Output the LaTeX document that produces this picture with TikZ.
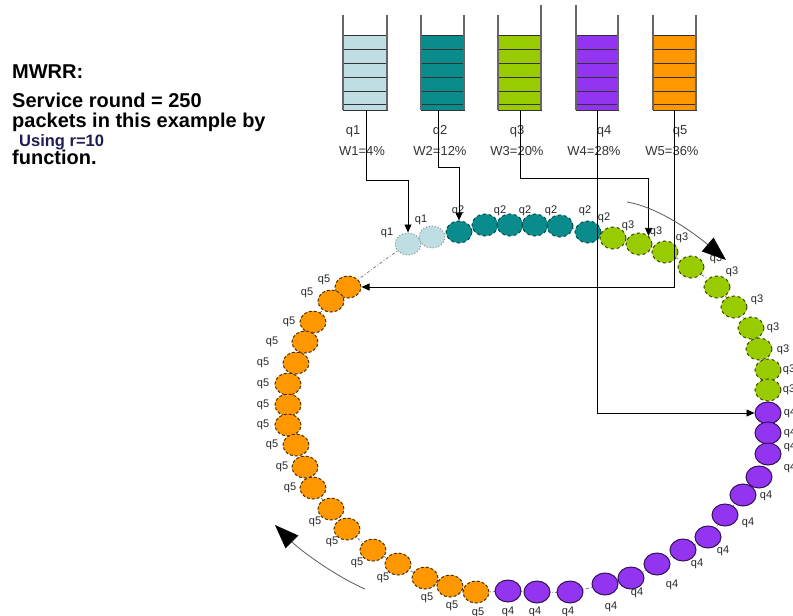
\documentclass[tikz,border=0pt]{standalone}
\usepackage{fontspec}
\setmainfont{Liberation Sans}
\usetikzlibrary{shapes.geometric,arrows.meta,backgrounds}
\definecolor{qone}{RGB}{190,222,228}
\definecolor{qtwo}{RGB}{10,140,140}
\definecolor{qthree}{RGB}{153,204,0}
\definecolor{qfour}{RGB}{146,52,240}
\definecolor{qfive}{RGB}{255,152,0}
\definecolor{noteblue}{RGB}{30,30,80}
\begin{document}
\begin{tikzpicture}[x=1pt,y=-1pt,
  wall/.style={draw=black!60,line width=2pt},
  slot/.style={draw=black!80,line width=0.9pt},
  pkt/.style={ellipse,minimum width=26pt,minimum height=22pt,inner sep=0pt,line width=1pt},
  pkone/.style={pkt,fill=qone,draw=black!45,dotted},
  pktwo/.style={pkt,fill=qtwo,draw=qtwo!50!black,dashed},
  pkthree/.style={pkt,fill=qthree,draw=qthree!35!black,dashed},
  pkfour/.style={pkt,fill=qfour,draw=qfour!35!black},
  pkfive/.style={pkt,fill=qfive,draw=qfive!30!black,densely dashed},
  plab/.style={font=\fontsize{11}{12}\selectfont,text=black!85,inner sep=0pt},
  qlab/.style={font=\fontsize{13}{14}\selectfont,text=black!80,anchor=base,inner sep=0pt},
  note/.style={font=\fontsize{20}{22}\selectfont\bfseries,anchor=base west,inner sep=0pt},
  feed/.style={draw=black,line width=0.8pt,-{Triangle[length=8pt,width=7pt]}},
  turn/.style={draw=black!65,line width=0.8pt,-{Triangle[length=24pt,width=18pt,black]}},
  ring/.style={draw=black!50,line width=0.8pt,dash dot}]
\useasboundingbox (0,0) rectangle (793,616);

% Text
\node[note] (t1) at (12,78) {MWRR:};
\node[note] (t2) at (12,107) {Service round = 250};
\node[note] (t3) at (12,127) {packets in this example by};
\node[note,font=\fontsize{16.5}{18}\selectfont\bfseries,text=noteblue] (t4) at (19,146) {Using r=10};
\node[note] (t5) at (12,164) {function.};

% Queue q1
\draw[slot,fill=qone] (343,35) rectangle (387,49);
\draw[slot,fill=qone] (343,49) rectangle (387,63);
\draw[slot,fill=qone] (343,63) rectangle (387,77);
\draw[slot,fill=qone] (343,77) rectangle (387,91);
\draw[slot,fill=qone] (343,91) rectangle (387,104);
\draw[slot,fill=qone] (343,104) rectangle (387,110);
\draw[wall] (343,15) -- (343,110);
\draw[wall] (387,15) -- (387,110);
\coordinate (b1) at (366,110);

% Queue q2
\draw[slot,fill=qtwo] (421,35) rectangle (464,49);
\draw[slot,fill=qtwo] (421,49) rectangle (464,63);
\draw[slot,fill=qtwo] (421,63) rectangle (464,77);
\draw[slot,fill=qtwo] (421,77) rectangle (464,91);
\draw[slot,fill=qtwo] (421,91) rectangle (464,104);
\draw[slot,fill=qtwo] (421,104) rectangle (464,110);
\draw[wall] (421,15) -- (421,110);
\draw[wall] (464,15) -- (464,110);
\coordinate (b2) at (438,110);

% Queue q3
\draw[slot,fill=qthree] (498,35) rectangle (541,49);
\draw[slot,fill=qthree] (498,49) rectangle (541,63);
\draw[slot,fill=qthree] (498,63) rectangle (541,77);
\draw[slot,fill=qthree] (498,77) rectangle (541,91);
\draw[slot,fill=qthree] (498,91) rectangle (541,104);
\draw[slot,fill=qthree] (498,104) rectangle (541,110);
\draw[wall] (498,15) -- (498,110);
\draw[wall] (541,5) -- (541,110);
\coordinate (b3) at (520,110);

% Queue q4
\draw[slot,fill=qfour] (576,35) rectangle (618,49);
\draw[slot,fill=qfour] (576,49) rectangle (618,63);
\draw[slot,fill=qfour] (576,63) rectangle (618,77);
\draw[slot,fill=qfour] (576,77) rectangle (618,91);
\draw[slot,fill=qfour] (576,91) rectangle (618,104);
\draw[slot,fill=qfour] (576,104) rectangle (618,110);
\draw[wall] (576,5) -- (576,110);
\draw[wall] (618,15) -- (618,110);
\coordinate (b4) at (597,110);

% Queue q5
\draw[slot,fill=qfive] (653,35) rectangle (696,49);
\draw[slot,fill=qfive] (653,49) rectangle (696,63);
\draw[slot,fill=qfive] (653,63) rectangle (696,77);
\draw[slot,fill=qfive] (653,77) rectangle (696,91);
\draw[slot,fill=qfive] (653,91) rectangle (696,104);
\draw[slot,fill=qfive] (653,104) rectangle (696,110);
\draw[wall] (653,15) -- (653,110);
\draw[wall] (696,15) -- (696,110);
\coordinate (b5) at (674,110);

% Queue labels
\node[qlab] (n1) at (353,134) {q1};
\node[qlab] (n2) at (440,134) {q2};
\node[qlab] (n3) at (517,134) {q3};
\node[qlab] (n4) at (604,134) {q4};
\node[qlab] (n5) at (680,134) {q5};
\node[qlab] (w1) at (362,155) {W1=4\%};
\node[qlab] (w2) at (440,155) {W2=12\%};
\node[qlab] (w3) at (517,155) {W3=20\%};
\node[qlab] (w4) at (594,155) {W4=28\%};
\node[qlab] (w5) at (672,155) {W5=36\%};

% q1 packets
\node[pkone] (p1a) at (408,244) {}; \node[plab] (l1a) at (387,233) {q1};
\node[pkone] (p1b) at (432,237) {}; \node[plab] (l1b) at (421,220) {q1};

% q2 packets
\node[pktwo] (p2a) at (459,232) {}; \node[plab] (l2a) at (458,211) {q2};
\node[pktwo] (p2b) at (485,225) {}; \node[plab] (l2b) at (500,211) {q2};
\node[pktwo] (p2c) at (510,225) {}; \node[plab] (l2c) at (525,211) {q2};
\node[pktwo] (p2d) at (535,225) {}; \node[plab] (l2d) at (551,211) {q2};
\node[pktwo] (p2e) at (560,226) {}; \node[plab] (l2e) at (585,211) {q2};
\node[pktwo] (p2f) at (588,232) {}; \node[plab] (l2f) at (604,218) {q2};

% q3 packets
\node[pkthree] (p3a) at (613,238) {}; \node[plab] (l3a) at (628,226) {q3};
\node[pkthree] (p3b) at (639,244) {}; \node[plab] (l3b) at (656,232) {q3};
\node[pkthree] (p3c) at (665,252) {}; \node[plab] (l3c) at (682,238) {q3};
\node[pkthree] (p3d) at (691,267) {}; \node[plab] (l3d) at (716,259) {q3};
\node[pkthree] (p3e) at (717,287) {}; \node[plab] (l3e) at (732,272) {q3};
\node[pkthree] (p3f) at (734,307) {}; \node[plab] (l3f) at (757,300) {q3};
\node[pkthree] (p3g) at (751,328) {}; \node[plab] (l3g) at (773,328) {q3};
\node[pkthree] (p3h) at (759,349) {}; \node[plab] (l3h) at (783,350) {q3};
\node[pkthree] (p3i) at (768,370) {}; \node[plab] (l3i) at (789,370) {q3};
\node[pkthree] (p3j) at (768,390) {}; \node[plab] (l3j) at (789,390) {q3};

% q4 packets
\node[pkfour] (p4a) at (768,413) {}; \node[plab] (l4a) at (790,413) {q4};
\node[pkfour] (p4b) at (768,433) {}; \node[plab] (l4b) at (790,433) {q4};
\node[pkfour] (p4c) at (768,454) {}; \node[plab] (l4c) at (790,447) {q4};
\node[pkfour] (p4d) at (759,477) {}; \node[plab] (l4d) at (790,468) {q4};
\node[pkfour] (p4e) at (743,495) {}; \node[plab] (l4e) at (766,496) {q4};
\node[pkfour] (p4f) at (725,515) {}; \node[plab] (l4f) at (748,523) {q4};
\node[pkfour] (p4g) at (708,537) {}; \node[plab] (l4g) at (723,551) {q4};
\node[pkfour] (p4h) at (683,550) {}; \node[plab] (l4h) at (697,564) {q4};
\node[pkfour] (p4i) at (657,564) {}; \node[plab] (l4i) at (672,585) {q4};
\node[pkfour] (p4j) at (631,578) {}; \node[plab] (l4j) at (637,593) {q4};
\node[pkfour] (p4k) at (605,584) {}; \node[plab] (l4k) at (611,607) {q4};
\node[pkfour] (p4l) at (570,592) {}; \node[plab] (l4l) at (568,612) {q4};
\node[pkfour] (p4m) at (537,592) {}; \node[plab] (l4m) at (535,612) {q4};
\node[pkfour] (p4n) at (508,591) {}; \node[plab] (l4n) at (508,612) {q4};

% q5 packets
\node[pkfive] (p5a) at (348,287) {}; \node[plab] (l5a) at (324,280) {q5};
\node[pkfive] (p5b) at (331,301) {}; \node[plab] (l5b) at (307,293) {q5};
\node[pkfive] (p5c) at (313,322) {}; \node[plab] (l5c) at (289,322) {q5};
\node[pkfive] (p5d) at (305,342) {}; \node[plab] (l5d) at (272,342) {q5};
\node[pkfive] (p5e) at (296,363) {}; \node[plab] (l5e) at (263,363) {q5};
\node[pkfive] (p5f) at (288,384) {}; \node[plab] (l5f) at (263,384) {q5};
\node[pkfive] (p5g) at (288,405) {}; \node[plab] (l5g) at (263,405) {q5};
\node[pkfive] (p5h) at (288,425) {}; \node[plab] (l5h) at (263,425) {q5};
\node[pkfive] (p5i) at (296,445) {}; \node[plab] (l5i) at (272,445) {q5};
\node[pkfive] (p5j) at (305,467) {}; \node[plab] (l5j) at (282,467) {q5};
\node[pkfive] (p5k) at (313,488) {}; \node[plab] (l5k) at (290,488) {q5};
\node[pkfive] (p5l) at (331,509) {}; \node[plab] (l5l) at (315,522) {q5};
\node[pkfive] (p5m) at (347,529) {}; \node[plab] (l5m) at (332,542) {q5};
\node[pkfive] (p5n) at (373,550) {}; \node[plab] (l5n) at (357,563) {q5};
\node[pkfive] (p5o) at (398,564) {}; \node[plab] (l5o) at (383,578) {q5};
\node[pkfive] (p5p) at (425,578) {}; \node[plab] (l5p) at (427,598) {q5};
\node[pkfive] (p5q) at (450,586) {}; \node[plab] (l5q) at (452,606) {q5};
\node[pkfive] (p5r) at (476,592) {}; \node[plab] (l5r) at (478,613) {q5};

% Ring behind the packets
\begin{scope}[on background layer]
\draw[ring] plot[smooth cycle] coordinates {(p1a) (p1b) (p2a) (p2b) (p2c) (p2d) (p2e) (p2f)
  (p3a) (p3b) (p3c) (p3d) (p3e) (p3f) (p3g) (p3h) (p3i) (p3j)
  (p4a) (p4b) (p4c) (p4d) (p4e) (p4f) (p4g) (p4h) (p4i) (p4j) (p4k) (p4l) (p4m) (p4n)
  (p5r) (p5q) (p5p) (p5o) (p5n) (p5m) (p5l) (p5k) (p5j) (p5i) (p5h) (p5g) (p5f) (p5e)
  (p5d) (p5c) (p5b) (p5a)};
\end{scope}

% Feeds from the queues
\draw[feed] (b1) -- ++(0,70) -| (p1a.north);
\draw[feed] (b2) -- ++(0,57) -| (p2a.north);
\draw[feed] (b3) -- ++(0,68) -| (p3b.north east);
\draw[feed] (b4) |- (p4a.west);
\draw[feed] (b5) |- (p5a.east);

% Direction of service
\draw[turn] (627,202) .. controls (662,208) and (700,238) .. (726,260);
\draw[turn] (365,589) .. controls (335,576) and (300,550) .. (275,525);
\end{tikzpicture}
\end{document}
